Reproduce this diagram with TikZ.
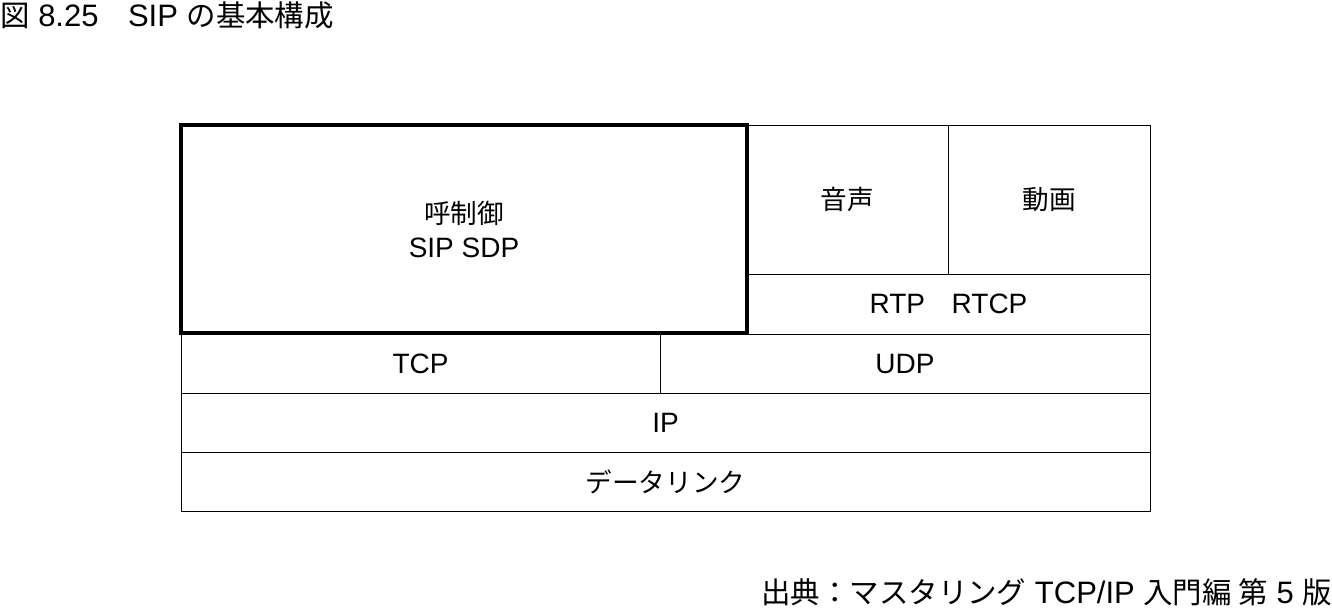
\documentclass[tikz,border=0pt]{standalone}
\usepackage{fontspec}
\setmainfont{Liberation Sans}
\newfontfamily\jp[Scale=0.95]{Noto Sans CJK JP}
\begin{document}
\begin{tikzpicture}[x=1pt,y=-1pt,
  cell/.style={draw=black, line width=1pt, inner sep=0pt, font=\fontsize{28}{34}\selectfont, align=center},
  boldcell/.style={cell, line width=4pt},
  caption/.style={inner sep=0pt, font=\fontsize{31}{36}\selectfont}]
\useasboundingbox (0,0) rectangle (1332,608);
\node[cell, minimum width=201pt, minimum height=149pt] (onsei) at (847.5,199.5) {\jp 音声};
\node[cell, minimum width=202pt, minimum height=149pt] (douga) at (1049,199.5) {\jp 動画};
\node[cell, minimum width=403pt, minimum height=60pt] (rtp) at (948.5,304) {RTP{\jp 　}RTCP};
\node[cell, minimum width=479pt, minimum height=59pt] (tcp) at (420.5,363.5) {TCP};
\node[cell, minimum width=490pt, minimum height=59pt] (udp) at (905,363.5) {UDP};
\node[cell, minimum width=969pt, minimum height=59pt] (ip) at (665.5,422.5) {IP};
\node[cell, minimum width=969pt, minimum height=59pt] (dl) at (665.5,481.5) {\jp データリンク};
\node[boldcell, minimum width=566pt, minimum height=208pt] (ctrl) at (464,229) {{\jp 呼制御}\\SIP SDP};
\node[caption, anchor=base west] (title) at (0,26) {{\jp 図} 8.25{\jp 　}SIP {\jp の基本構成}};
\node[caption, anchor=base east] (src) at (1332,603) {{\jp 出典：マスタリング} TCP/IP {\jp 入門編 第} 5 {\jp 版}};
\end{tikzpicture}
\end{document}
